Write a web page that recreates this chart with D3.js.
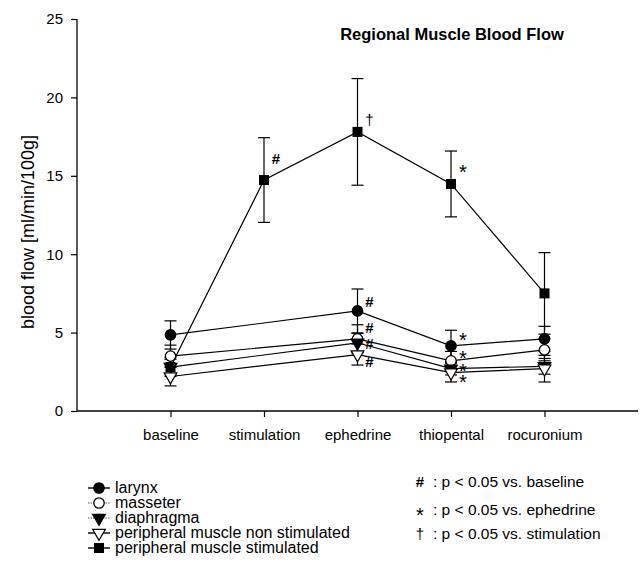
<!doctype html>
<html lang="en">

<head>
    <meta charset="UTF-8" />
    <script src="https://d3js.org/d3.v7.min.js"></script>
    <title>Regional Muscle Blood Flow</title>
    <style>
        body { margin: 0; background: #fff; }
        text { font-family: "Liberation Sans", Arial, Helvetica, sans-serif; fill: #000; }
    </style>
</head>

<body>
    <div id="chart"></div>
    <script>
        // Data
        const categories = ["baseline", "stimulation", "ephedrine", "thiopental", "rocuronium"]
        const seriesNames = ["larynx", "masseter", "diaphragma", "peripheral muscle non stimulated", "peripheral muscle stimulated"]
        const larynx = [4.85, null, 6.38, 4.15, 4.6]
        const larynxSd = [0.9, null, 1.4, 1.0, 0.8]
        const masseter = [3.5, null, 4.6, 3.2, 3.9]
        const masseterSd = [0.7, null, 0.9, 0.6, 0.7]
        const diaphragma = [2.8, null, 4.35, 2.7, 2.85]
        const diaphragmaSd = [0.6, null, 0.6, 0.4, 0.5]
        const nonStim = [2.2, null, 3.6, 2.45, 2.7]
        const nonStimSd = [0.6, null, 0.67, 0.6, 0.85]
        const stim = [2.8, 14.73, 17.8, 14.48, 7.5]
        const stimSd = [0.5, 2.7, 3.4, 2.1, 2.6]
        const yTicks = [0, 5, 10, 15, 20, 25]

        // significance marks: category index, value, symbol
        const marks = [
            [1, 16.1, "#"], [2, 18.56, "†"], [3, 15.56, "*"],
            [2, 6.95, "#"], [2, 5.3, "#"], [2, 4.27, "#"], [2, 3.13, "#"],
            [3, 4.85, "*"], [3, 3.7, "*"], [3, 2.87, "*"], [3, 2.17, "*"]
        ]
        const keyNotes = [["#", ": p < 0.05 vs. baseline"], ["*", ": p < 0.05 vs. ephedrine"], ["†", ": p < 0.05 vs. stimulation"]]

        const values = [larynx, masseter, diaphragma, nonStim, stim]
        const sds = [larynxSd, masseterSd, diaphragmaSd, nonStimSd, stimSd]
        const symbols = ["circle", "circle", "tri", "tri", "square"]
        const filled = [true, false, true, false, true]
        const dotted = [false, true, true, false, false]

        const W = 641, H = 576
        const plot = { left: 77, right: 638, top: 19, bottom: 411 }

        const svg = d3.select("#chart").append("svg")
            .attr("width", W).attr("height", H)

        const x = d3.scaleLinear().domain([0, 6]).range([plot.left, plot.right])
        const y = d3.scaleLinear().domain([0, 25]).range([plot.bottom, plot.top])

        // axes
        const yAxis = svg.append("g")
            .attr("transform", `translate(${plot.left},0)`)
            .call(d3.axisLeft(y).tickValues(yTicks).tickSize(6).tickPadding(8))
        const xAxis = svg.append("g")
            .attr("transform", `translate(0,${plot.bottom})`)
            .call(d3.axisBottom(x).tickValues([1, 2, 3, 4, 5]).tickSize(6).tickPadding(12)
                .tickFormat(d => categories[d - 1]))
        ;[yAxis, xAxis].forEach(a => {
            a.select(".domain").attr("stroke", "#000").attr("stroke-width", 1.3)
            a.selectAll(".tick line").attr("stroke", "#000").attr("stroke-width", 1.2)
            a.selectAll("text").attr("font-size", 15).attr("font-family", null)
        })
        xAxis.select(".domain").attr("d", `M${plot.left},0H${plot.right}`)
        yAxis.select(".domain").attr("d", `M0,${y(25)}V${plot.bottom}`)

        svg.append("text")
            .attr("transform", `translate(34,232) rotate(-90)`)
            .attr("text-anchor", "middle")
            .attr("font-size", 18)
            .text("blood flow [ml/min/100g]")

        svg.append("text")
            .attr("x", 452).attr("y", 40)
            .attr("text-anchor", "middle")
            .attr("font-size", 16.5).attr("font-weight", "bold")
            .text("Regional Muscle Blood Flow")

        const line = d3.line().x(d => x(d[0] + 1)).y(d => y(d[1]))

        function marker(g, i) {
            const fill = filled[i] ? "#000" : "#fff"
            if (symbols[i] === "circle") {
                g.append("circle").attr("r", 5.2).attr("fill", fill).attr("stroke", "#000").attr("stroke-width", 1.3)
            } else if (symbols[i] === "square") {
                g.append("rect").attr("x", -5).attr("y", -5).attr("width", 10).attr("height", 10).attr("fill", "#000")
            } else {
                g.append("path").attr("d", d3.symbol(d3.symbolTriangle, 70)())
                    .attr("transform", "rotate(180)")
                    .attr("fill", fill).attr("stroke", "#000").attr("stroke-width", 1.2)
            }
        }

        // lines
        values.forEach((vals, i) => {
            const pts = vals.map((v, j) => [j, v]).filter(d => d[1] !== null)
            svg.append("path").attr("d", line(pts))
                .attr("fill", "none").attr("stroke", "#000").attr("stroke-width", 1.2)
        })

        // error bars
        values.forEach((vals, i) => {
            vals.forEach((v, j) => {
                if (v === null) return
                const sd = sds[i][j]
                const cx = x(j + 1)
                const g = svg.append("g").attr("stroke", "#000").attr("stroke-width", 1.2)
                g.append("line").attr("x1", cx).attr("x2", cx).attr("y1", y(v - sd)).attr("y2", y(v + sd))
                ;[v - sd, v + sd].forEach(e => {
                    g.append("line").attr("x1", cx - 6).attr("x2", cx + 6).attr("y1", y(e)).attr("y2", y(e))
                })
            })
        })

        // markers
        values.forEach((vals, i) => {
            vals.forEach((v, j) => {
                if (v === null) return
                marker(svg.append("g").attr("transform", `translate(${x(j + 1)},${y(v)})`), i)
            })
        })

        // significance marks
        marks.forEach(([c, v, s]) => {
            svg.append("text")
                .attr("x", x(c + 1) + 12).attr("y", y(v))
                .attr("dy", s === "*" ? "0.58em" : "0.35em")
                .attr("text-anchor", "middle")
                .attr("font-size", s === "*" ? 20 : 15)
                .attr("font-weight", s === "#" ? "bold" : "normal")
                .text(s)
        })

        // legend (series)
        seriesNames.forEach((name, i) => {
            const ly = 488 + i * 15
            const g = svg.append("g").attr("transform", `translate(99,${ly})`)
            g.append("line").attr("x1", -11).attr("x2", 11)
                .attr("stroke", dotted[i] ? "#555" : "#000")
                .attr("stroke-width", dotted[i] ? 1 : 1.4)
                .attr("stroke-dasharray", dotted[i] ? "1.5,1" : null)
            marker(g, i)
            svg.append("text").attr("x", 115).attr("y", ly + 5)
                .attr("font-size", 16).text(name)
        })

        // legend (significance)
        const noteY = [487, 515, 539]
        keyNotes.forEach(([s, t], i) => {
            svg.append("text").attr("x", 420).attr("y", noteY[i])
                .attr("dy", s === "*" ? "0.35em" : 0)
                .attr("text-anchor", "middle")
                .attr("font-size", s === "*" ? 20 : 15)
                .attr("font-weight", s === "#" ? "bold" : "normal")
                .text(s)
            svg.append("text").attr("x", 433).attr("y", noteY[i])
                .attr("font-size", 15.5).text(t)
        })
    </script>
</body>

</html>
